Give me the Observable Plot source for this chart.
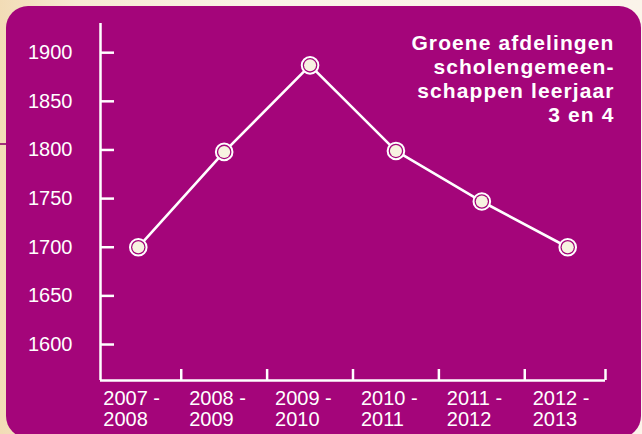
<!DOCTYPE html>
<html>
<head>
<meta charset="utf-8">
<script src="https://cdn.jsdelivr.net/npm/d3@7"></script>
<script src="https://cdn.jsdelivr.net/npm/@observablehq/plot@0.6"></script>
<style>
  html, body { margin: 0; padding: 0; }
  body { width: 642px; height: 434px; overflow: hidden;
    background: linear-gradient(to right, #f2dcb6 0%, #f7e9d2 12%, #faf2e6 40%, #fbf4ea 100%); }
  #wrap { position: relative; width: 642px; height: 434px; }
  #panel { position: absolute; left: 6px; top: 6px; width: 635px; height: 432px;
    background: #a4057a; border-radius: 22px; }
  #deco { position: absolute; left: 0; top: 143px; width: 8px; height: 2px; background: #a0307a; }
  #chart { position: absolute; left: 0; top: 0; }
</style>
</head>
<body>
<div id="wrap">
  <div id="deco"></div>
  <div id="panel"></div>
  <div id="chart"></div>
</div>
<script>
const categories = ["2007 -\n2008", "2008 -\n2009", "2009 -\n2010", "2010 -\n2011", "2011 -\n2012", "2012 -\n2013"];
const values = [1700, 1798, 1887, 1799, 1747, 1700];
const yTicks = [1600, 1650, 1700, 1750, 1800, 1850, 1900];
const title = "Groene afdelingen\nscholengemeen-\nschappen leerjaar\n3 en 4";

const xDomain = [-0.44, categories.length - 1 + 0.44];
const yDomain = [1563, 1930];
const boundaries = categories.slice(1).map((_, i) => i + 0.5).concat([xDomain[1]]);
const data = categories.map((c, i) => ({i, label: c, value: values[i]}));

const W = 642, H = 434, mL = 100, mR = 37, mT = 23, mB = 54;
const frameW = W - mL - mR, frameH = H - mT - mB;

const chart = Plot.plot({
  width: W, height: H,
  marginLeft: mL, marginRight: mR, marginTop: mT, marginBottom: mB,
  x: {domain: xDomain, axis: null},
  y: {domain: yDomain, axis: null},
  style: {background: "transparent", color: "white", fontFamily: "'Liberation Sans', Arial, sans-serif", overflow: "visible"},
  marks: [
    Plot.ruleX([xDomain[0]], {stroke: "white", strokeWidth: 2.5}),
    Plot.ruleY([yDomain[0]], {stroke: "white", strokeWidth: 2.5}),
    Plot.ruleY(yTicks, {stroke: "white", strokeWidth: 2.5, insetRight: frameW - 14}),
    Plot.ruleX(boundaries, {stroke: "white", strokeWidth: 2.5, insetTop: frameH - 11}),
    Plot.axisY({ticks: yTicks, label: null, tickSize: 0, tickPadding: 28, fontSize: 20, tickFormat: d => String(d), fill: "white"}),
    Plot.line(data, {x: "i", y: "value", stroke: "white", strokeWidth: 2.6}),
    Plot.dot(data, {x: "i", y: "value", r: 8.3, stroke: "white", strokeWidth: 2, fill: "#a4057a"}),
    Plot.dot(data, {x: "i", y: "value", r: 6, fill: "#f7f3e1", stroke: null}),
    Plot.text(data, {x: "i", text: "label", frameAnchor: "bottom", lineAnchor: "top", textAnchor: "start",
      dx: -35, dy: 10, fontSize: 20, lineHeight: 1.05, fill: "white"}),
    Plot.text([title], {text: d => d, frameAnchor: "top-right", textAnchor: "end", lineAnchor: "top",
      fontWeight: "bold", fontSize: 21, lineHeight: 1.15, dx: 9, dy: 9, fill: "white"})
  ]
});
document.getElementById("chart").appendChild(chart);
d3.select(chart).selectAll("text")
  .filter(function() { return this.textContent.startsWith("Groene"); })
  .style("letter-spacing", "1.1px");
</script>
</body>
</html>
